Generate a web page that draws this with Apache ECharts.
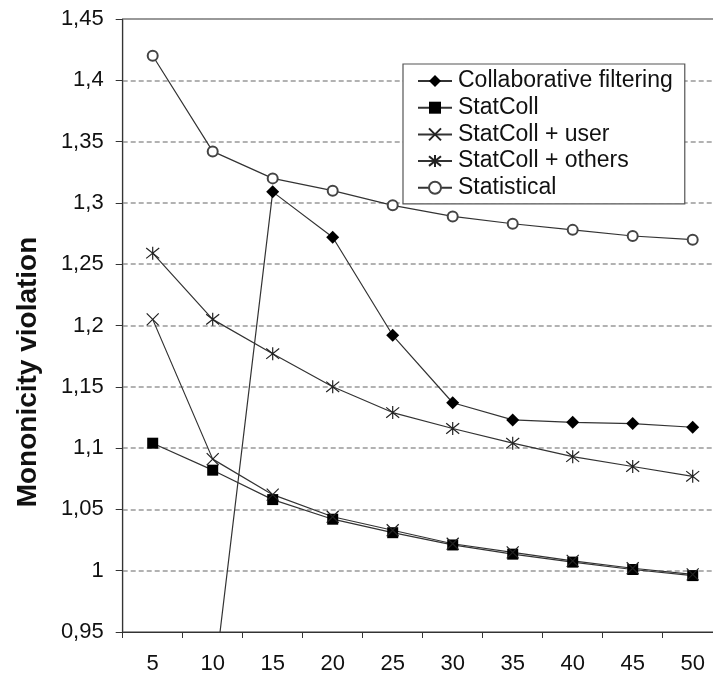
<!DOCTYPE html>
<html>
<head>
<meta charset="utf-8">
<script src="https://cdn.jsdelivr.net/npm/echarts@6/dist/echarts.min.js"></script>
<style>
  html, body { margin: 0; padding: 0; background: #fff; overflow: hidden; }
  #chart { width: 740px; height: 676px; }
</style>
</head>
<body>
<div id="chart"></div>
<script>
// Number of neighbours (x) vs. monotonicity violation (y)
const categories = ['5', '10', '15', '20', '25', '30', '35', '40', '45', '50'];
const collaborative = [null, 0.9, 1.309, 1.272, 1.192, 1.137, 1.123, 1.121, 1.120, 1.117];
const statColl = [1.104, 1.082, 1.058, 1.042, 1.031, 1.021, 1.0135, 1.007, 1.001, 0.996];
const statCollUser = [1.205, 1.091, 1.062, 1.044, 1.033, 1.022, 1.015, 1.008, 1.002, 0.997];
const statCollOthers = [1.259, 1.205, 1.177, 1.150, 1.129, 1.116, 1.104, 1.093, 1.085, 1.077];
const statistical = [1.42, 1.342, 1.320, 1.310, 1.298, 1.289, 1.283, 1.278, 1.273, 1.270];
const seriesNames = ['Collaborative filtering', 'StatColl', 'StatColl + user', 'StatColl + others', 'Statistical'];
const yTitle = 'Mononicity violation';

const FONT = 'Liberation Sans, Arial, sans-serif';
const LINE = '#333';
const crossPath = 'path://M0,0L10,8M10,0L0,8';
const starPath = 'path://M0,1L10,9M10,1L0,9M5,0L5,10';

function lineSeries(name, data, symbol, size, filled) {
  return {
    name: name,
    type: 'line',
    data: data,
    symbol: symbol,
    symbolSize: size,
    showAllSymbol: true,
    clip: true,
    connectNulls: false,
    lineStyle: { color: LINE, width: 1.2 },
    itemStyle: filled
      ? { color: '#000', borderColor: '#000', borderWidth: 0 }
      : { color: symbol === 'emptyCircle' ? '#444' : 'none', borderColor: '#222', borderWidth: 1.2 },
    emphasis: { disabled: true },
    animation: false
  };
}

const chart = echarts.init(document.getElementById('chart'), null, { renderer: 'canvas' });
chart.setOption({
  backgroundColor: '#fff',
  animation: false,
  grid: {
    left: 122.7, top: 19, width: 600, height: 613,
    outerBoundsMode: 'none',
    show: true, borderColor: '#333', borderWidth: 1, backgroundColor: 'transparent'
  },
  xAxis: {
    type: 'category',
    data: categories,
    boundaryGap: true,
    axisLine: { lineStyle: { color: '#333', width: 1.2 } },
    axisTick: { show: true, length: 6, lineStyle: { color: '#333' } },
    axisLabel: { color: '#111', fontFamily: FONT, fontSize: 22, margin: 21 },
    splitLine: { show: false }
  },
  yAxis: {
    type: 'value',
    min: 0.95,
    max: 1.45,
    interval: 0.05,
    axisLine: { show: true, lineStyle: { color: '#333', width: 1.2 } },
    axisTick: { show: true, length: 7, lineStyle: { color: '#333' } },
    axisLabel: {
      color: '#111', fontFamily: FONT, fontSize: 22, margin: 19,
      formatter: v => String(parseFloat(v.toFixed(2))).replace('.', ',')
    },
    splitLine: { show: true, lineStyle: { color: '#999', width: 1.5, type: [5, 3] } }
  },
  legend: {
    orient: 'vertical',
    left: 403, top: 64,
    width: 260,
    data: seriesNames,
    backgroundColor: '#fff',
    borderColor: '#555',
    borderWidth: 1.2,
    padding: [5, 12, 4, 14],
    itemWidth: 34,
    itemHeight: 15,
    itemGap: 2.7,
    textStyle: { color: '#111', fontFamily: FONT, fontSize: 23, lineHeight: 24, padding: [0, 0, 0, 1] },
    selectedMode: false
  },
  graphic: [{
    type: 'text',
    x: 28, y: 372,
    rotation: Math.PI / 2,
    style: {
      text: yTitle,
      font: 'bold 28px ' + FONT,
      fill: '#111',
      align: 'center',
      verticalAlign: 'middle'
    }
  }],
  series: [
    lineSeries(seriesNames[0], collaborative, 'diamond', 13, true),
    lineSeries(seriesNames[1], statColl, 'rect', 11, true),
    lineSeries(seriesNames[2], statCollUser, crossPath, 12, false),
    lineSeries(seriesNames[3], statCollOthers, starPath, 13, false),
    lineSeries(seriesNames[4], statistical, 'emptyCircle', 10, false)
  ]
});
</script>
</body>
</html>
